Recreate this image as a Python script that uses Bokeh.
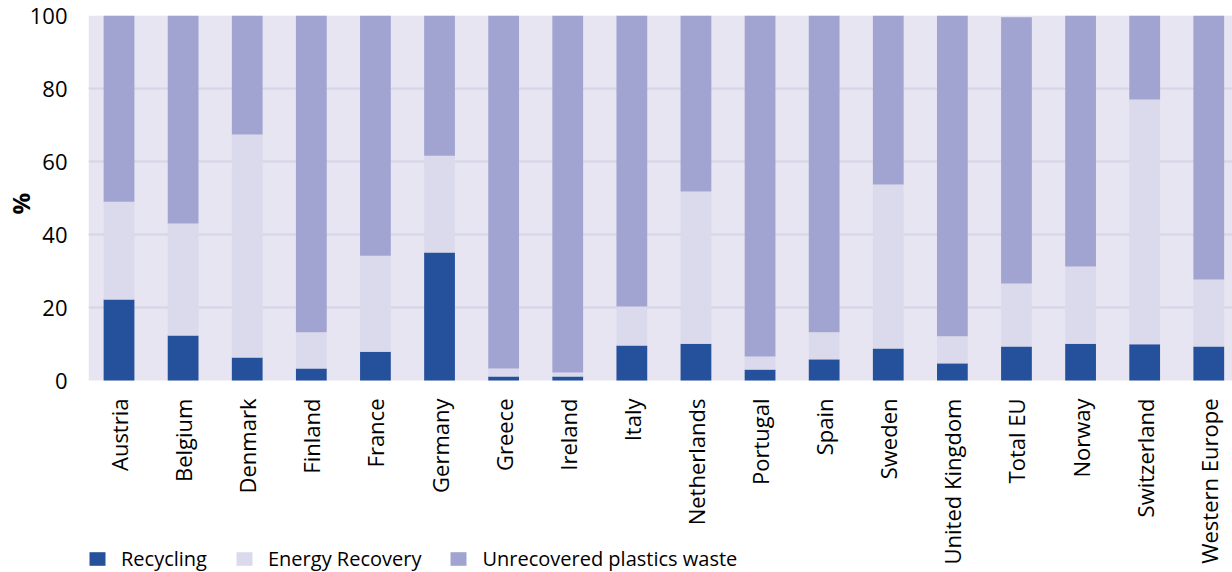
import math
from bokeh.plotting import figure
from bokeh.models import ColumnDataSource, Range1d, FixedTicker, Legend, BoxAnnotation
from bokeh.embed import file_html
from bokeh.resources import INLINE

categories = ["Austria", "Belgium", "Denmark", "Finland", "France", "Germany", "Greece",
              "Ireland", "Italy", "Netherlands", "Portugal", "Spain", "Sweden",
              "United Kingdom", "Total EU", "Norway", "Switzerland", "Western Europe"]
recycling = [22.2, 12.3, 6.3, 3.3, 7.9, 35.1, 1.1, 1.1, 9.6, 10.1, 3.0, 5.8, 8.8, 4.7, 9.3, 10.1, 9.9, 9.3]
energy_recovery = [26.8, 30.7, 61.1, 9.9, 26.3, 26.5, 2.2, 1.1, 10.7, 41.7, 3.6, 7.4, 44.9, 7.4, 17.3, 21.1, 67.1, 18.4]
unrecovered = [51.0, 57.0, 32.6, 86.8, 65.8, 38.4, 96.7, 97.8, 79.7, 48.2, 93.4, 86.8, 46.3, 87.9, 72.9, 68.8, 23.0, 72.3]
y_ticks = [0, 20, 40, 60, 80, 100]
grid_ticks = [20, 40, 60, 80, 100]
y_label = "%"

FONT = "Open Sans"
C_REC = "#25519C"
C_ENE = "#DBDAEC"
C_UNR = "#A1A4D0"
C_BG = "#E7E5F1"

source = ColumnDataSource(dict(
    x=list(range(len(categories))),
    rec=recycling, ene=energy_recovery, unr=unrecovered,
))

p = figure(width=1232, height=572, output_backend="svg", toolbar_location=None,
           x_range=Range1d(-0.476, 17.37), y_range=Range1d(-52.6, 100),
           min_border_left=88, min_border_right=0, min_border_top=15, min_border_bottom=0)

p.background_fill_color = "white"
p.border_fill_color = "white"
p.outline_line_color = None

bg = BoxAnnotation(bottom=0, top=100, fill_color=C_BG, fill_alpha=1.0, line_color=None, level="image")
p.add_layout(bg)

renderers = p.vbar_stack(["rec", "ene", "unr"], x="x", width=0.48, source=source,
                         color=[C_REC, C_ENE, C_UNR], line_color=None)

p.xgrid.grid_line_color = None
p.ygrid.grid_line_color = "#D6D4E8"
p.ygrid.grid_line_width = 2
p.ygrid.ticker = FixedTicker(ticks=grid_ticks)

p.xaxis.fixed_location = 0
p.xaxis.ticker = FixedTicker(ticks=list(range(len(categories))))
p.xaxis.major_label_overrides = {i: c for i, c in enumerate(categories)}
p.xaxis.major_label_orientation = math.pi / 2
p.xaxis.major_label_text_font = FONT
p.xaxis.major_label_text_font_size = "22px"
p.xaxis.major_label_text_color = "black"
p.xaxis.major_label_standoff = 18
p.xaxis.axis_line_color = None
p.xaxis.major_tick_line_color = None
p.xaxis.minor_tick_line_color = None
p.xaxis.major_tick_out = 0
p.xaxis.major_tick_in = 0

p.yaxis.ticker = FixedTicker(ticks=y_ticks)
p.yaxis.major_label_text_font = FONT
p.yaxis.major_label_text_font_size = "22px"
p.yaxis.major_label_text_color = "black"
p.yaxis.major_label_standoff = 21
p.yaxis.axis_line_color = None
p.yaxis.major_tick_line_color = None
p.yaxis.minor_tick_line_color = None
p.yaxis.major_tick_out = 0
p.yaxis.major_tick_in = 0
# leading wide spaces push the centred label up to the middle of the 0-100 band
p.yaxis.axis_label = "\u2003" * 7 + "\u00a0\u00a0" + y_label
p.yaxis.axis_label_text_font = FONT
p.yaxis.axis_label_text_font_size = "24px"
p.yaxis.axis_label_text_font_style = "bold"
p.yaxis.axis_label_text_color = "black"
p.yaxis.axis_label_standoff = -10

legend = Legend(items=[("Recycling", [renderers[0]]),
                       ("Energy Recovery", [renderers[1]]),
                       ("Unrecovered plastics waste", [renderers[2]])],
                orientation="horizontal", location=(-1, 0),
                glyph_width=20, glyph_height=17, label_standoff=14, spacing=27,
                padding=0, margin=0, border_line_color=None,
                background_fill_alpha=0,
                label_text_font=FONT, label_text_font_size="20px", label_text_color="black")
p.add_layout(legend, "center")

open("out.html", "w").write(file_html(p, INLINE))
